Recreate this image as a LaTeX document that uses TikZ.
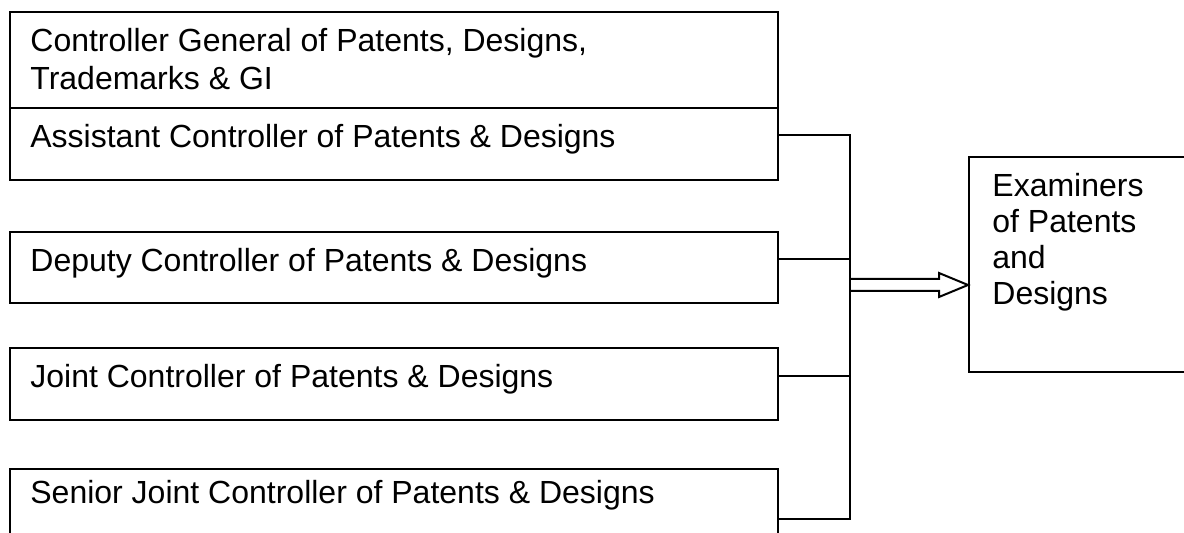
\documentclass[tikz,border=0pt]{standalone}
\usepackage{fontspec}
\setmainfont{Liberation Sans}
\usetikzlibrary{calc}
\begin{document}
\begin{tikzpicture}[x=0.5pt,y=-0.5pt,
  box/.style={draw, line width=1pt, rectangle, inner sep=0pt, minimum width=384pt},
  caption/.style={anchor=base west, inner sep=0pt, align=left,
    font=\fontsize{16}{18.5}\selectfont},
  link/.style={draw, line width=1pt}]
\useasboundingbox (0,0) rectangle (1184,533);
\clip (0,0) rectangle (1184,533);

% ranks, drawn as stacked boxes on the left
\node[box, minimum height=48pt] (cg) at (394,60) {};
\node[box, minimum height=36pt] (as) at (394,144) {};
\node[box, minimum height=35.5pt] (dp) at (394,267.5) {};
\node[box, minimum height=36pt] (jt) at (394,384) {};
\node[box, minimum height=50pt] (sj) at (394,519) {};

% multi-line captions are placed by the baseline of their last line
\node[caption, font=\fontsize{16}{19}\selectfont] (cgt) at (30,90)
  {Controller General of Patents, Designs,\\Trademarks \& GI};
\node[caption] (ast) at (30,148) {Assistant Controller of Patents \& Designs};
\node[caption] (dpt) at (30,272) {Deputy Controller of Patents \& Designs};
\node[caption] (jtt) at (30,388) {Joint Controller of Patents \& Designs};
\node[caption] (sjt) at (30,504) {Senior Joint Controller of Patents \& Designs};

% target box on the right
\node[draw, line width=1pt, rectangle, inner sep=0pt,
  minimum width=115.5pt, minimum height=107.5pt] (ex) at (1084.5,264.5) {};
\node[caption, font=\fontsize{16}{18}\selectfont] (ext) at (992,305)
  {Examiners\\of Patents\\and\\Designs};

% collecting bus
\coordinate (b1) at (850,135);
\coordinate (b2) at (850,259);
\coordinate (b3) at (850,376);
\coordinate (b4) at (850,519);
\coordinate (ar) at (850,285);

\draw[link] (as.east |- b1) -- (b1) -- (b4) -- (sj.east |- b4);
\draw[link] (dp.east |- b2) -- (b2);
\draw[link] (jt.east |- b3) -- (b3);

% hollow block arrow
\draw[link, line join=miter]
  ($(ar)+(0,-6)$) -- ($(ex.west |- ar)+(-29,-6)$) -- ($(ex.west |- ar)+(-29,-12)$)
  -- (ex.west |- ar) -- ($(ex.west |- ar)+(-29,12)$) -- ($(ex.west |- ar)+(-29,6)$)
  -- ($(ar)+(0,6)$);
\end{tikzpicture}
\end{document}
